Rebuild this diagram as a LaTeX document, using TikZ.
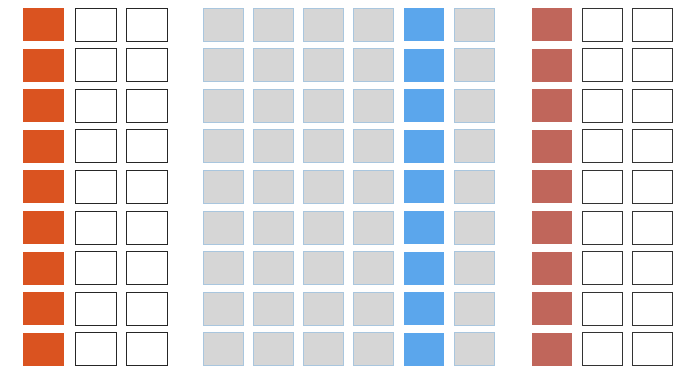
\documentclass[tikz,border=0pt]{standalone}
\begin{document}
\begin{tikzpicture}[x=1pt,y=-1pt,
  cell/.style={minimum width=41pt,minimum height=33pt,inner sep=0pt,outer sep=0pt,anchor=north west},
  orangecell/.style={cell,fill=orangeC,draw=none},
  whitecell/.style={cell,fill=white,draw=black!85,line width=0.9pt},
  graycell/.style={cell,minimum width=40pt,fill=grayC,draw=edgeC,line width=0.9pt},
  bluecell/.style={cell,minimum width=40pt,fill=blueC,draw=none},
  browncell/.style={cell,minimum width=40pt,fill=brownC,draw=none},
  rwhitecell/.style={cell,minimum width=40pt,fill=white,draw=black!80,line width=0.9pt}]
\definecolor{orangeC}{HTML}{DA5320}
\definecolor{grayC}{HTML}{D6D6D6}
\definecolor{edgeC}{HTML}{A9C6DE}
\definecolor{blueC}{HTML}{5BA6EC}
\definecolor{brownC}{HTML}{C0665B}
\useasboundingbox[fill=white] (0,0) rectangle (675,365);
\foreach \r in {1,...,9}{
  \pgfmathsetmacro{\yy}{8+40.6*(\r-1)}
  % left group
  \node[orangecell] (L\r a) at (23,\yy) {};
  \node[whitecell]  (L\r b) at (75,\yy) {};
  \node[whitecell]  (L\r c) at (126,\yy) {};
  % middle group
  \node[graycell] (M\r a) at (203,\yy) {};
  \node[graycell] (M\r b) at (253,\yy) {};
  \node[graycell] (M\r c) at (303,\yy) {};
  \node[graycell] (M\r d) at (353,\yy) {};
  \node[bluecell] (M\r e) at (404,\yy) {};
  \node[graycell] (M\r f) at (454,\yy) {};
  % right group
  \node[browncell]  (R\r a) at (532,\yy) {};
  \node[rwhitecell] (R\r b) at (582,\yy) {};
  \node[rwhitecell] (R\r c) at (632,\yy) {};
}
\end{tikzpicture}
\end{document}
